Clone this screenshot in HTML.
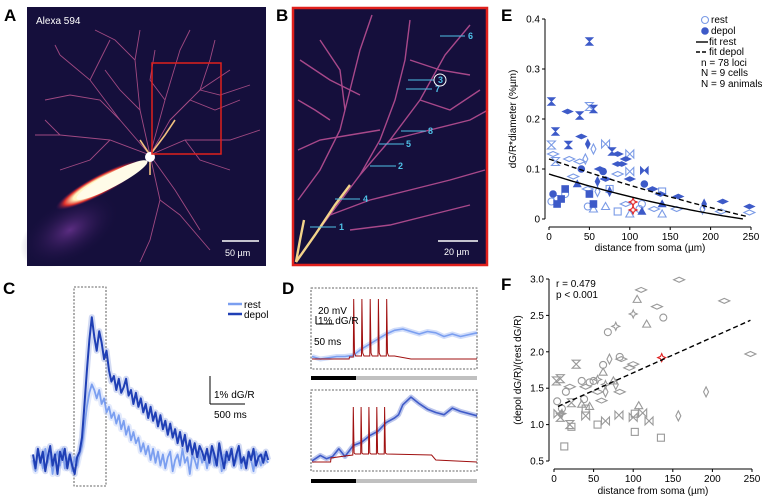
<!DOCTYPE html>
<html><head><meta charset="utf-8"><style>
body{margin:0;background:#fff;}
svg{display:block;font-family:"Liberation Sans",sans-serif;}
</style></head><body>
<svg id="fig" width="767" height="502" viewBox="0 0 767 502" xmlns="http://www.w3.org/2000/svg">
<defs>
<radialGradient id="pip" cx="0.5" cy="0.5" r="0.5"><stop offset="0" stop-color="#fff"/><stop offset="0.6" stop-color="#fff6c0"/><stop offset="0.8" stop-color="#e0302a"/><stop offset="1" stop-color="#3a105a" stop-opacity="0"/></radialGradient>
<radialGradient id="glow" cx="0.5" cy="0.5" r="0.5"><stop offset="0" stop-color="#7a3aa0" stop-opacity="0.7"/><stop offset="1" stop-color="#140c3a" stop-opacity="0"/></radialGradient>
</defs>
<g font-weight="bold" font-size="17" fill="#000">
<text x="4" y="21">A</text>
<text x="276" y="21">B</text>
<text x="3" y="294">C</text>
<text x="282" y="294">D</text>
<text x="501" y="21">E</text>
<text x="501" y="290">F</text>
</g>
<g>
<rect x="27" y="7" width="239" height="259" fill="#150f3c"/>
<ellipse cx="70" cy="230" rx="55" ry="30" fill="url(#glow)" transform="rotate(-30 70 230)"/>
<g stroke="#b0508a" stroke-width="0.9" fill="none" opacity="0.9">
<path d="M150 155 L120 120 L90 80 L60 55"/><path d="M150 155 L110 140 L60 135 L35 135"/><path d="M150 155 L140 110 L135 60 L140 30"/>
<path d="M150 155 L170 120 L200 90 L230 70"/><path d="M150 155 L185 140 L230 140 L260 130"/><path d="M150 155 L165 100 L180 50 L190 30"/>
<path d="M150 155 L160 200 L150 240 L140 262"/><path d="M150 155 L175 190 L200 230"/><path d="M120 120 L100 100 L70 95 L45 100"/>
<path d="M135 60 L115 40 L95 30"/><path d="M200 90 L210 60 L215 40"/><path d="M170 120 L190 100 L215 110 L240 100"/>
<path d="M90 80 L100 60 L110 40"/><path d="M60 55 L55 45"/><path d="M185 140 L200 160 L230 170"/><path d="M110 140 L90 160 L60 170"/>
<path d="M140 110 L120 90 L105 70"/><path d="M165 100 L150 80 L155 50"/><path d="M200 90 L220 95 L250 85"/><path d="M60 135 L45 120"/><path d="M160 200 L180 215 L210 250"/>
</g>
<g stroke="#f0c080" stroke-width="1.6" fill="none"><path d="M150 155 L165 135 L175 120"/><path d="M150 155 L140 140"/><path d="M150 155 L150 175"/></g>
<ellipse cx="100" cy="185" rx="50" ry="10" fill="url(#pip)" transform="rotate(-28 100 185)"/>
<ellipse cx="112" cy="180" rx="40" ry="7" fill="#fffbe8" transform="rotate(-28 112 180)"/>
<circle cx="150" cy="157" r="5" fill="#fff"/>
<rect x="152" y="63" width="69" height="91" fill="none" stroke="#e0201c" stroke-width="1.5"/>
<text x="36" y="24" font-size="10" fill="#fff">Alexa 594</text>
<line x1="222" y1="241" x2="259" y2="241" stroke="#fff" stroke-width="1.5"/>
<text x="225" y="256" font-size="9" fill="#fff">50 µm</text>
</g>
<g>
<rect x="292" y="7" width="196" height="259" fill="#150f3c"/>
<g stroke="#a8488a" stroke-width="1.4" fill="none">
<path d="M298 258 L330 215 L360 175 L390 140 L420 100 L445 55 L470 25"/><path d="M330 215 L370 200 L410 190 L450 180 L485 170"/>
<path d="M360 175 L380 140 L395 100 L405 60 L410 20"/><path d="M390 140 L430 130 L470 120 L488 110"/><path d="M298 200 L320 170 L340 130 L350 90 L360 50 L372 15"/>
<path d="M298 150 L320 140 L350 135 L380 130"/><path d="M300 60 L330 80 L360 95"/><path d="M320 40 L340 70 L345 110"/><path d="M420 100 L450 110 L480 90"/>
<path d="M298 100 L315 110 L330 120"/><path d="M410 60 L440 70 L470 75"/><path d="M350 230 L390 225 L430 215 L470 205"/>
</g>
<g stroke="#f3d38a" stroke-width="2.4" fill="none"><path d="M296 262 L315 235 L335 205 L350 185"/><path d="M296 262 L300 240 L304 220"/></g>
<g stroke="#4fc0e6" stroke-width="1">
<line x1="310" y1="227" x2="336" y2="227"/><line x1="370" y1="166" x2="396" y2="166"/><line x1="408" y1="80" x2="434" y2="80"/>
<line x1="335" y1="199" x2="360" y2="199"/><line x1="379" y1="144" x2="404" y2="144"/><line x1="440" y1="36" x2="465" y2="36"/>
<line x1="406" y1="89" x2="432" y2="89"/><line x1="401" y1="131" x2="426" y2="131"/>
</g>
<g font-size="9" fill="#4fc0e6" font-weight="bold">
<text x="339" y="230">1</text><text x="398" y="169">2</text><text x="438" y="83">3</text><text x="363" y="202">4</text>
<text x="406" y="147">5</text><text x="468" y="39">6</text><text x="435" y="92">7</text><text x="428" y="134">8</text>
</g>
<circle cx="440" cy="80" r="6" fill="none" stroke="#fff" stroke-width="1"/>
<line x1="438" y1="241" x2="478" y2="241" stroke="#fff" stroke-width="1.5"/>
<text x="444" y="255" font-size="9" fill="#fff">20 µm</text>
<rect x="293" y="8" width="194" height="257" fill="none" stroke="#e0201c" stroke-width="2.5"/>
</g>
<g id="panelC"></g>
<g id="panelD"></g>
<g id="panelE"></g>
<g id="panelF"></g>
</svg>
<script>
// ---- Panel C data (dG/R %, 35 ms steps)
const cDepol=[0.2,-0.3,0.4,-0.1,0.3,-0.4,0.1,0.5,-0.2,0.2,-0.5,0.3,0.0,0.4,-0.3,0.2,-0.2,-0.5,0.1,0.3,
0.8,2.0,3.2,4.3,5.1,4.4,3.9,4.6,4.2,3.6,3.9,
3.2,2.8,3.0,2.5,2.9,2.4,2.6,2.9,2.3,2.5,2.0,2.4,1.9,2.2,1.7,2.0,1.5,1.9,1.4,1.7,
1.2,1.6,1.1,1.4,0.9,1.3,0.8,1.1,0.6,1.0,0.5,0.9,0.3,0.7,0.2,0.6,0.1,0.5,0.3,0.0,
0.4,-0.1,0.5,0.2,-0.2,0.6,0.1,-0.3,0.3,0.0,0.4,-0.2,0.2,0.5,-0.1,0.1,-0.3,0.3,0.0,0.4,-0.2,0.1,0.2,-0.1,0.3,0.0];
const cRest=[0.0,-0.4,0.3,0.1,-0.3,0.4,-0.1,0.2,-0.5,0.1,0.3,-0.2,0.4,-0.3,0.0,0.2,-0.4,0.1,-0.2,0.2,
0.5,1.2,1.9,2.4,2.7,2.5,2.2,2.5,2.0,2.2,1.7,
1.9,1.5,1.7,1.3,1.6,1.1,1.4,0.9,1.2,0.7,1.0,0.6,0.8,0.3,0.6,0.2,0.5,0.0,0.4,-0.1,
0.3,-0.2,0.2,-0.3,0.1,0.3,-0.4,0.0,0.2,-0.2,0.4,-0.1,0.1,-0.5,0.2,0.0,-0.3,0.3,-0.1,0.2,
-0.3,0.1,0.4,-0.2,0.0,0.3,-0.4,0.2,-0.1,0.1,0.4,-0.2,0.0,0.3,-0.3,0.1,-0.1,0.2,0.0,-0.4,0.3,0.1,-0.2,0.2,0.0,-0.1];
const cStepMs=35;
// ---- Panel D data (time ms, values)
const dTopVmT=[0,90,91,100,101,103,106,120,121,123,126,140,141,143,146,160,161,163,166,180,181,183,186,200,240,400];
const dTopVm=[0,0,2,2,60,6,3,3,60,6,3,3,60,6,3,3,60,6,3,3,60,6,3,3,0,0];
const dTopFlT=[0,20,40,60,80,100,120,140,160,180,200,220,240,260,280,300,320,340,360,400];
const dTopFl=[0.1,0.0,0.05,0.1,0.1,0.15,0.4,0.6,0.8,1.0,1.15,1.2,1.1,1.0,1.1,1.05,0.9,1.0,0.9,1.05];
const dBotVmT=[0,45,46,80,99,100,102,105,118,119,121,124,137,138,140,143,156,157,159,162,175,176,178,181,290,300,400];
const dBotVm=[0,0,4,6,7,55,9,8,8,55,9,8,8,55,9,8,8,55,9,8,8,55,9,8,7,2,0];
const dBotFlT=[0,20,35,50,65,80,100,120,140,160,180,200,210,220,240,260,280,300,320,340,360,400];
const dBotFl=[0.1,0.6,0.3,0.5,1.2,0.5,1.5,1.8,2.4,2.8,3.6,4.0,4.3,5.2,5.9,5.3,4.8,4.5,4.3,4.9,4.6,4.2];
// ---- Panel E data
const eRestX=[3,5,8,25,38,45,50,55,70,100,100,85,30,48,60,20,10,3,48,55,70,100,112,115,130,140,140,158,190,213,248,85,95,75];
const eRestY=[0.148,0.13,0.115,0.12,0.115,0.12,0.225,0.14,0.15,0.13,0.095,0.09,0.085,0.06,0.055,0.05,0.04,0.035,0.025,0.02,0.025,0.01,0.02,0.03,0.02,0.01,0.055,0.02,0.02,0.015,0.013,0.015,0.03,0.06];
const eRestShape=["h","d","h","d","d","v","h","v","b","b","b","d","d","d","v","o","o","o","o","t","t","t","o","o","d","t","s","d","v","d","d","s","d","s"];
const eDepolX=[3,8,23,38,40,50,55,24,48,78,85,95,85,90,63,67,118,118,40,5,10,15,50,55,75,35,115,140,160,192,215,248,100,128,138,70,20,60];
const eDepolY=[0.235,0.175,0.215,0.207,0.165,0.355,0.22,0.148,0.15,0.135,0.13,0.12,0.11,0.11,0.1,0.095,0.097,0.07,0.1,0.05,0.03,0.04,0.05,0.03,0.055,0.07,0.015,0.03,0.045,0.03,0.035,0.025,0.08,0.06,0.05,0.08,0.06,0.075];
const eDepolShape=["h","h","d","h","d","h","h","h","v","h","d","d","d","d","d","o","b","o","o","o","s","s","s","s","v","t","t","t","d","v","d","d","d","d","d","d","s","v"];
const eHighlightX=[104,104];
const eHighlightY=[0.034,0.018];
const eFitRest=[0.09,-0.000508,5.56e-7];
const eFitDepol=[0.12,-0.000562,3.79e-7];
const eXTicks=[0,50,100,150,200,250];
const eYTicks=[0,0.1,0.2,0.3,0.4];
// ---- Panel F data
const fX=[13,22,55,102,135,102,40,4,10,15,35,45,62,68,83,138,38,50,3,8,28,22,8,20,65,82,100,112,120,5,40,105,107,62,75,35,117,45,110,130,158,215,248,20,40,85,83,60,55,95,100,70,78,192,157,65,78,100,65,10,55];
const fY=[0.7,0.97,1.0,0.9,0.82,1.15,1.22,1.32,1.22,1.45,1.6,1.58,1.82,2.27,1.93,2.47,1.35,1.6,1.6,1.63,1.83,1.3,1.1,1.0,1.05,1.13,1.1,1.16,1.05,1.15,1.12,2.72,1.26,1.72,1.6,1.28,2.38,1.25,2.85,2.62,2.99,2.7,1.97,1.52,1.52,1.9,1.45,1.33,1.45,1.78,1.83,1.9,1.55,1.45,1.12,1.45,2.35,2.52,1.55,1.15,1.62];
const fShape=["s","s","s","s","s","s","s","o","o","o","o","o","o","o","o","o","o","o","h","h","h","h","h","h","b","b","b","b","b","b","b","t","t","t","t","t","t","t","d","d","d","d","d","d","d","d","d","d","d","d","d","v","v","v","v","v","x","x","x","x","x"];
const fHighlightX=[136];
const fHighlightY=[1.92];
const fFit=[1.225,0.00487];
const fFitRange=[5,248];
const fXTicks=[0,50,100,150,200,250];
const fYTicks=[0.5,1.0,1.5,2.0,2.5,3.0];

const NS="http://www.w3.org/2000/svg";
function mk(tag,attrs,parent){const e=document.createElementNS(NS,tag);for(const k in attrs)e.setAttribute(k,attrs[k]);parent.appendChild(e);return e;}
function txt(s,attrs,parent){const e=mk("text",attrs,parent);e.textContent=s;return e;}

(function(){
  const g=document.getElementById("panelC");
  const x0=33,pxPerMs=35/500,y0=460,pxPerPct=28;
  const cx=i=>x0+i*cStepMs*pxPerMs, cy=v=>y0-v*pxPerPct;
  const box=mk("rect",{x:74,y:287,width:32,height:199,fill:"none",stroke:"#333","stroke-width":0.8,"stroke-dasharray":"2,1.5"},g);
  
  
  function trace(arr,col,bandCol,w,name){
    const d=arr.map((v,i)=>(i?"L":"M")+cx(i).toFixed(1)+" "+cy(v).toFixed(1)).join(" ");
    mk("path",{d:d,fill:"none",stroke:bandCol,"stroke-width":6,"stroke-linejoin":"round",opacity:0.4},g);
    const p=mk("path",{d:d,fill:"none",stroke:col,"stroke-width":w,"stroke-linejoin":"round"},g);
    
    
  }
  trace(cRest,"#7b9ff0","#b8cbf7",1.8,"rest-trace");
  trace(cDepol,"#1f3fb5","#8fa3e0",2,"depol-trace");
  mk("line",{x1:210,y1:376,x2:210,y2:404,stroke:"#000","stroke-width":1},g);
  mk("line",{x1:210,y1:404,x2:245,y2:404,stroke:"#000","stroke-width":1},g);
  txt("1% dG/R",{x:214,y:398,"font-size":10},g);
  txt("500 ms",{x:214,y:418,"font-size":10},g);
  mk("line",{x1:228,y1:304,x2:242,y2:304,stroke:"#7b9ff0","stroke-width":2.5},g);
  mk("line",{x1:228,y1:314,x2:242,y2:314,stroke:"#1f3fb5","stroke-width":2.5},g);
  const l1=txt("rest",{x:244,y:308,"font-size":10},g);
  
  
  const l2=txt("depol",{x:244,y:318,"font-size":10},g);
  
  
})();

(function(){
  const g=document.getElementById("panelD");
  const x0=312,pxPerMs=165/400;
  function panel(top,base,vmT,vm,flT,fl,flCol,flScale,barY,name){
    mk("rect",{x:311,y:top,width:166,height:81,fill:"none",stroke:"#333","stroke-width":0.8,"stroke-dasharray":"2,1.5"},g);
    const fd=flT.map((t,i)=>(i?"L":"M")+(x0+t*pxPerMs).toFixed(1)+" "+(base-fl[i]*flScale).toFixed(1)).join(" ");
    mk("path",{d:fd,fill:"none",stroke:flCol,"stroke-width":5,opacity:0.35,"stroke-linejoin":"round"},g);
    const fp=mk("path",{d:fd,fill:"none",stroke:flCol,"stroke-width":1.6,"stroke-linejoin":"round"},g);
    
    
    const vd=vmT.map((t,i)=>(i?"L":"M")+(x0+t*pxPerMs).toFixed(1)+" "+(base-vm[i]).toFixed(1)).join(" ");
    const vp=mk("path",{d:vd,fill:"none",stroke:"#a01010","stroke-width":1},g);
    
    
    mk("rect",{x:311,y:barY,width:45,height:4,fill:"#000"},g);
    mk("rect",{x:356,y:barY,width:121,height:4,fill:"#c0c0c0"},g);
  }
  panel(288,359,dTopVmT,dTopVm,dTopFlT,dTopFl,"#7b9ff0",25,376,"d-top");
  panel(390,462,dBotVmT,dBotVm,dBotFlT,dBotFl,"#3f5bc8",11,479,"d-bottom");
  mk("line",{x1:316,y1:316,x2:316,y2:324,stroke:"#000","stroke-width":1},g);
  mk("line",{x1:316,y1:324,x2:334,y2:324,stroke:"#000","stroke-width":1},g);
  txt("20 mV",{x:318,y:314,"font-size":10},g);
  txt("1% dG/R",{x:318,y:324,"font-size":10},g);
  txt("50 ms",{x:314,y:345,"font-size":10},g);
})();

function marker(g,shape,x,y,col,filled,name){
  const f=filled?col:"none", sw=filled?0.6:1.1, r=4;
  let e;
  if(shape==="o") e=mk("circle",{cx:x,cy:y,r:r-0.5},g);
  else if(shape==="s") e=mk("rect",{x:x-r+0.5,y:y-r+0.5,width:2*r-1,height:2*r-1},g);
  else if(shape==="t") e=mk("polygon",{points:`${x},${y-r} ${x+r},${y+r-1} ${x-r},${y+r-1}`},g);
  else if(shape==="d") e=mk("polygon",{points:`${x-r-1.5},${y} ${x},${y-r+1.5} ${x+r+1.5},${y} ${x},${y+r-1.5}`},g);
  else if(shape==="v") e=mk("polygon",{points:`${x-r+1.5},${y} ${x},${y-r-1} ${x+r-1.5},${y} ${x},${y+r+1}`},g);
  else if(shape==="h") e=mk("polygon",{points:`${x-r},${y-r} ${x+r},${y-r} ${x},${y} ${x+r},${y+r} ${x-r},${y+r} ${x},${y}`},g);
  else if(shape==="b") e=mk("polygon",{points:`${x-r},${y-r} ${x},${y} ${x+r},${y-r} ${x+r},${y+r} ${x},${y} ${x-r},${y+r}`},g);
  else e=mk("polygon",{points:`${x},${y-r} ${x+1.2},${y-1.2} ${x+r},${y} ${x+1.2},${y+1.2} ${x},${y+r} ${x-1.2},${y+1.2} ${x-r},${y} ${x-1.2},${y-1.2}`},g);
  e.setAttribute("fill",f);e.setAttribute("stroke",col);e.setAttribute("stroke-width",sw);
  
  
}
function axes(g,xs,ys,xTicks,yTicks,xAxisY,yAxisX,yFmt){
  mk("line",{x1:yAxisX,y1:ys(yTicks[yTicks.length-1]),x2:yAxisX,y2:ys(yTicks[0]),stroke:"#000","stroke-width":1},g);
  mk("line",{x1:xs(xTicks[0]),y1:xAxisY,x2:xs(xTicks[xTicks.length-1]),y2:xAxisY,stroke:"#000","stroke-width":1},g);
  xTicks.forEach(t=>{mk("line",{x1:xs(t),y1:xAxisY,x2:xs(t),y2:xAxisY+3,stroke:"#000"},g);
    const e=txt(String(t),{x:xs(t),y:xAxisY+13,"font-size":10,"text-anchor":"middle"},g);
    
    });
  yTicks.forEach(t=>{mk("line",{x1:yAxisX-3,y1:ys(t),x2:yAxisX,y2:ys(t),stroke:"#000"},g);
    const e=txt(yFmt(t),{x:yAxisX-5,y:ys(t)+3.5,"font-size":10,"text-anchor":"end"},g);
    
    });
}

(function(){
  const g=document.getElementById("panelE");
  const xs=v=>549+v*(202/250), ys=v=>219-v*500;
  axes(g,xs,ys,eXTicks,eYTicks,227,545,t=>t===0?"0":t.toFixed(1));
  const xt=txt("distance from soma (µm)",{x:650,y:251,"font-size":10,"text-anchor":"middle"},g);
  
  
  const yt=txt("dG/R*diameter (%µm)",{x:0,y:0,"font-size":10,"text-anchor":"middle",transform:"translate(516,119) rotate(-90)"},g);
  
  
  eRestX.forEach((x,i)=>marker(g,eRestShape[i],xs(x),ys(eRestY[i]),"#7b9be6",false,"rest-point"));
  eDepolX.forEach((x,i)=>marker(g,eDepolShape[i],xs(x),ys(eDepolY[i]),"#3d5ac8",true,"depol-point"));
  eHighlightX.forEach((x,i)=>marker(g,"x",xs(x),ys(eHighlightY[i]),"#e02020",false,"highlight-point"));
  function fit(p,x1,dash,name){let d="";for(let x=0;x<=x1;x+=5){const y=p[0]+p[1]*x+p[2]*x*x;d+=(x?"L":"M")+xs(x).toFixed(1)+" "+ys(y).toFixed(1);}
    const e=mk("path",{d:d,fill:"none",stroke:"#000","stroke-width":1.4,"stroke-dasharray":dash},g);
    
    }
  fit(eFitRest,240,"none","fit-rest-line");
  fit(eFitDepol,245,"5,3","fit-depol-line");
  marker(g,"o",705,20,"#7b9be6",false,"legend-rest-marker");
  marker(g,"o",705,31,"#3d5ac8",true,"legend-depol-marker");
  mk("line",{x1:696,y1:42,x2:708,y2:42,stroke:"#000","stroke-width":1.4},g);
  mk("line",{x1:696,y1:52,x2:708,y2:52,stroke:"#000","stroke-width":1.4,"stroke-dasharray":"4,2"},g);
  [["rest",711,23],["depol",711,34],["fit rest",709,45],["fit depol",709,55],["n = 78 loci",701,66],["N = 9 cells",701,76],["N = 9 animals",701,87]].forEach(a=>{
    const e=txt(a[0],{x:a[1],y:a[2],"font-size":10},g);
    
    });
})();

(function(){
  const g=document.getElementById("panelF");
  const xs=v=>554+v*(198/250), ys=v=>279-(v-3)*72.8;
  axes(g,xs,ys,fXTicks,fYTicks,469,549,t=>t.toFixed(1));
  const xt=txt("distance from soma (µm)",{x:653,y:494,"font-size":10,"text-anchor":"middle"},g);
  
  
  const yt=txt("(depol dG/R)/(rest dG/R)",{x:0,y:0,"font-size":10,"text-anchor":"middle",transform:"translate(521,370) rotate(-90)"},g);
  
  
  fX.forEach((x,i)=>marker(g,fShape[i],xs(x),ys(fY[i]),"#999",false,"ratio-point"));
  fHighlightX.forEach((x,i)=>marker(g,"x",xs(x),ys(fHighlightY[i]),"#e02020",false,"highlight-point"));
  const fl=mk("line",{x1:xs(fFitRange[0]),y1:ys(fFit[0]+fFit[1]*fFitRange[0]),x2:xs(fFitRange[1]),y2:ys(fFit[0]+fFit[1]*fFitRange[1]),stroke:"#000","stroke-width":1.4,"stroke-dasharray":"5,3"},g);
  
  
  const r=txt("r = 0.479",{x:556,y:287,"font-size":10},g);
  
  
  const p=txt("p < 0.001",{x:556,y:298,"font-size":10},g);
  
  
})();
</script>
</body></html>
